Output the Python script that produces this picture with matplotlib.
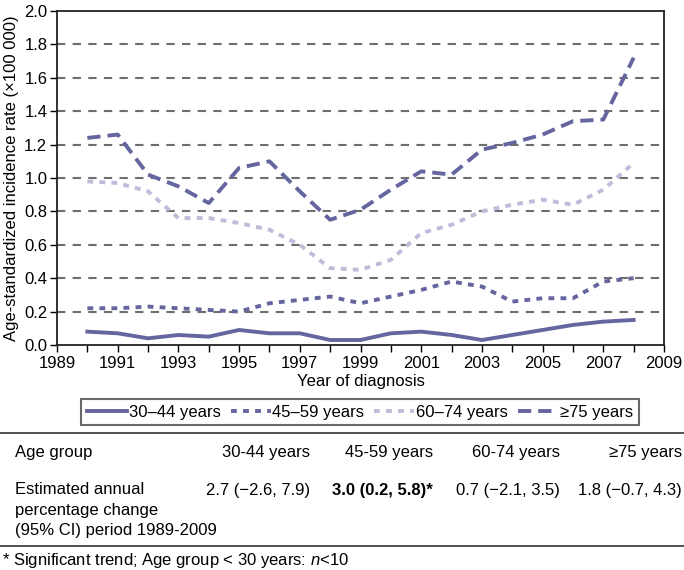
import matplotlib
matplotlib.use("Agg")
import matplotlib.pyplot as plt
from matplotlib.ticker import MultipleLocator, FixedLocator

plt.rcParams["font.family"] = ["Liberation Sans", "DejaVu Sans"]
plt.rcParams["mathtext.fontset"] = "custom"
plt.rcParams["mathtext.it"] = "Liberation Sans:italic"
plt.rcParams["mathtext.rm"] = "Liberation Sans"

years = list(range(1990, 2009))
rate_30_44 = [0.08, 0.07, 0.04, 0.06, 0.05, 0.09, 0.07, 0.07, 0.03, 0.03,
              0.07, 0.08, 0.06, 0.03, 0.06, 0.09, 0.12, 0.14, 0.15]
rate_45_59 = [0.22, 0.22, 0.23, 0.22, 0.21, 0.20, 0.25, 0.27, 0.29, 0.25,
              0.29, 0.33, 0.38, 0.35, 0.26, 0.28, 0.28, 0.38, 0.40]
rate_60_74 = [0.98, 0.97, 0.92, 0.76, 0.76, 0.73, 0.69, 0.60, 0.46, 0.45,
              0.51, 0.67, 0.72, 0.80, 0.84, 0.87, 0.84, 0.93, 1.09]
rate_75 = [1.24, 1.26, 1.02, 0.95, 0.85, 1.06, 1.10, 0.92, 0.75, 0.81,
           0.93, 1.04, 1.02, 1.17, 1.21, 1.26, 1.34, 1.35, 1.72]

series_labels = ["30\u201344 years", "45\u201359 years", "60\u201374 years", "\u226575 years"]
x_ticks = [1989, 1991, 1993, 1995, 1997, 1999, 2001, 2003, 2005, 2007, 2009]

table_header = ["30-44 years", "45-59 years", "60-74 years", "\u226575 years"]
table_values = ["2.7 (\u22122.6, 7.9)", "3.0 (0.2, 5.8)*", "0.7 (\u22122.1, 3.5)", "1.8 (\u22120.7, 4.3)"]
table_bold = [False, True, False, False]
row_label_lines = ["Estimated annual", "percentage change", "(95% CI) period 1989-2009"]

DARK = "#65659f"
LIGHT = "#bdbdd9"

W, H = 684, 570
fig = plt.figure(figsize=(W / 100, H / 100), dpi=100)


def fx(px):
    return px / W


def fy(py):
    return 1 - py / H


ax = fig.add_axes([fx(57), fy(345), fx(664 - 57), (345 - 11) / H])

lw = 2.8
h1, = ax.plot(years, rate_30_44, color=DARK, lw=lw, ls="-")
h2, = ax.plot(years, rate_45_59, color=DARK, lw=lw, ls=(0, (1.5, 1.6)))
h3, = ax.plot(years, rate_60_74, color=LIGHT, lw=lw, ls=(0, (1.5, 1.6)))
h4, = ax.plot(years, rate_75, color=DARK, lw=lw, ls=(0, (3.4, 1.8)))

ax.set_xlim(1989, 2009)
ax.set_ylim(0, 2.0)
ax.xaxis.set_major_locator(FixedLocator(x_ticks))
ax.xaxis.set_minor_locator(MultipleLocator(1))
ax.yaxis.set_major_locator(MultipleLocator(0.2))
ax.yaxis.set_major_formatter(plt.FormatStrFormatter("%.1f"))
ax.tick_params(axis="both", direction="out", labelsize=12, length=5, width=1)
ax.tick_params(axis="x", which="minor", direction="out", length=5, width=1)
ax.tick_params(axis="x", pad=3)
ax.tick_params(axis="y", pad=2)

for y in [0.2, 0.4, 0.6, 0.8, 1.0, 1.2, 1.4, 1.6, 1.8]:
    ax.axhline(y, color="#6e6e6e", lw=1.5, ls=(0, (4, 3.5)), zorder=0)

for s in ax.spines.values():
    s.set_linewidth(1.3)
    s.set_color("#222222")

ax.set_xlabel("Year of diagnosis", fontsize=12, labelpad=2)
ax.set_ylabel("Age-standardized incidence rate (\u00d7100 000)", fontsize=12, labelpad=4)

leg = fig.legend([h1, h2, h3, h4], series_labels, loc="center",
                 bbox_to_anchor=(fx(360), fy(412)), ncol=4, fontsize=12,
                 handlelength=2.4, handletextpad=0.1, columnspacing=0.6,
                 frameon=True, fancybox=False, borderpad=0.35)
leg.get_frame().set_edgecolor("#444444")
leg.get_frame().set_linewidth(1.5)

# table below chart
fig.add_artist(plt.Line2D([0, 1], [fy(433), fy(433)], color="#333333", lw=1.2))
fig.add_artist(plt.Line2D([0, 1], [fy(546), fy(546)], color="#333333", lw=1.2))

col_right = [310, 433, 560, 682]
fig.text(fx(15), fy(453), "Age group", fontsize=12, va="center")
for x, t in zip(col_right, table_header):
    fig.text(fx(x), fy(453), t, fontsize=12, ha="right", va="center")

for py, line in zip([490, 510, 530], row_label_lines):
    fig.text(fx(15), fy(py), line, fontsize=12, va="center")
for x, t, b in zip(col_right, table_values, table_bold):
    fig.text(fx(x), fy(490), t, fontsize=12, ha="right", va="center",
             fontweight="bold" if b else "normal")

fig.text(fx(2), fy(561), "* Significant trend; Age group < 30 years: $n$<10",
         fontsize=12, va="center")

fig.savefig("out.png", dpi=100)
